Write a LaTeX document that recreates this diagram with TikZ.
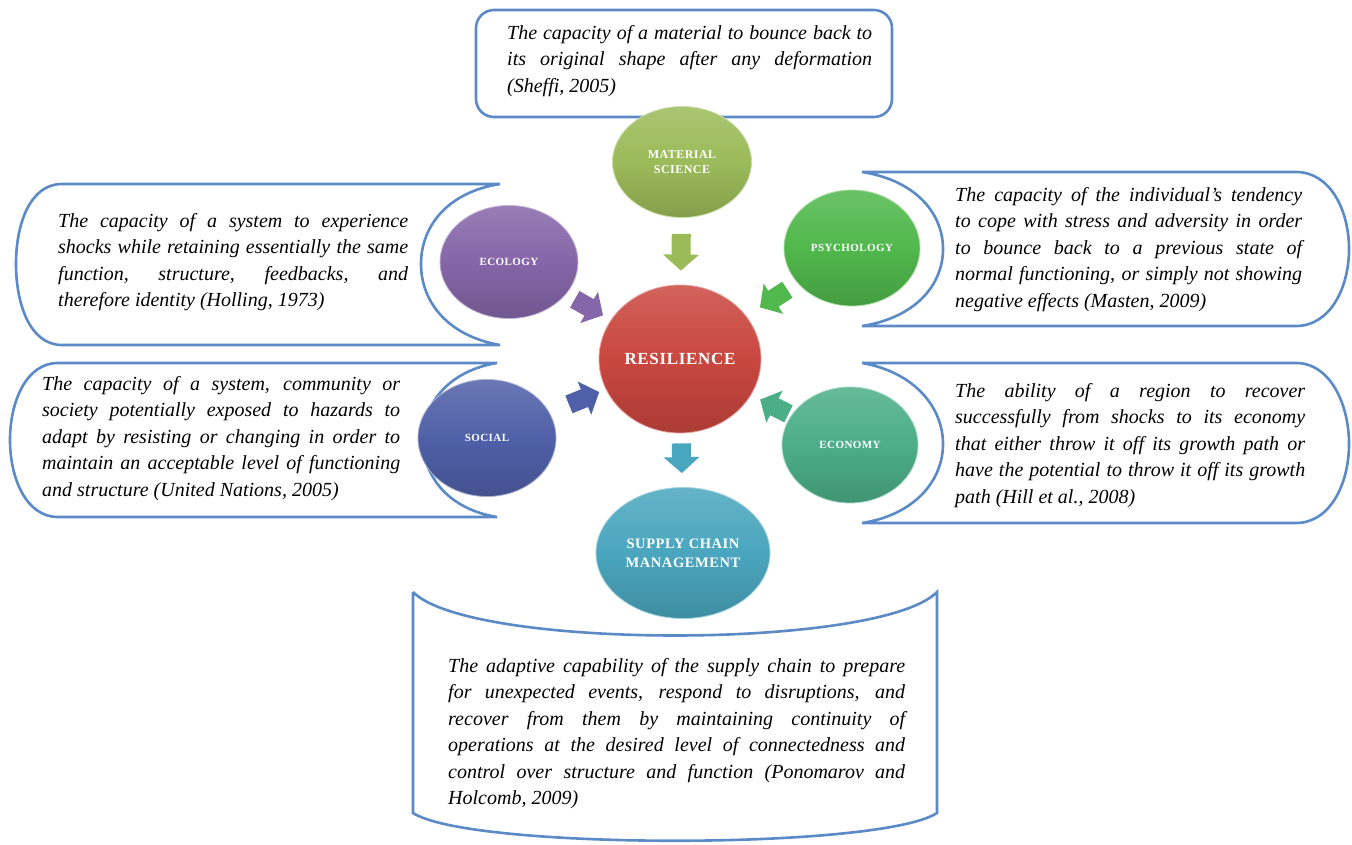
\documentclass[tikz,border=0pt]{standalone}
\usepackage{fontspec}
\setmainfont{Liberation Serif}
\newfontfamily\lblfont[LetterSpace=4.0]{Liberation Serif}
\usetikzlibrary{shapes.geometric,arrows.meta,calc}
\definecolor{boxcol}{HTML}{5B8AC6}
\definecolor{mscol}{HTML}{9BBB59}
\definecolor{rescol}{HTML}{C9473F}
\definecolor{ecocol}{HTML}{8566A8}
\definecolor{psycol}{HTML}{50B84C}
\definecolor{soccol}{HTML}{5060A8}
\definecolor{ecncol}{HTML}{4CAE88}
\definecolor{scmcol}{HTML}{4AA6BE}
\hyphenpenalty=10000
\exhyphenpenalty=10000
\tikzset{
  descbox/.style={draw=boxcol, line width=2.6pt, fill=white},
  desc/.style={anchor=north west, inner sep=0pt, align=justify,
    font=\fontsize{20}{26.5}\selectfont\itshape},
  disc/.style={ellipse, inner sep=0pt, align=center, text=white,
    top color=#1!85!white, bottom color=#1!85!black, middle color=#1,
    draw=#1!50!white, line width=0.8pt},
  flow/.style={draw=#1, line width=19pt, -{Triangle[width=35pt,length=16pt]}}
}
\begin{document}
\begin{tikzpicture}[x=1pt,y=-1pt]
\useasboundingbox (0,0) rectangle (1352,845);
\fill[white] (0,0) rectangle (1352,845);

\draw[descbox, rounded corners=18pt] (476,10) rectangle (892,117);
\draw[descbox] (500,184) -- (62,184) .. controls (30,184) and (16,224) .. (16,264)
  .. controls (16,304) and (30,345) .. (62,345) -- (500,345)
  .. controls (448,336) and (421,302) .. (421,264) .. controls (421,226) and (448,192) .. (500,184);
\draw[descbox] (862,172) -- (1296,172) .. controls (1330,172) and (1349,210) .. (1349,249)
  .. controls (1349,288) and (1330,326) .. (1296,326) -- (862,326)
  .. controls (914,318) and (943,286) .. (943,249) .. controls (943,212) and (914,180) .. (862,172);
\draw[descbox] (497,363) -- (58,363) .. controls (26,363) and (10,402) .. (10,440)
  .. controls (10,478) and (26,517) .. (58,517) -- (497,517)
  .. controls (448,509) and (423,476) .. (423,440) .. controls (423,404) and (448,371) .. (497,363);
\draw[descbox] (862,363) -- (1296,363) .. controls (1330,363) and (1349,404) .. (1349,444)
  .. controls (1349,484) and (1330,523) .. (1296,523) -- (862,523)
  .. controls (914,515) and (943,481) .. (943,444) .. controls (943,407) and (914,372) .. (862,363);
\draw[descbox] (413,592) -- (413,813) .. controls (470,850) and (880,850) .. (937,813)
  -- (937,592) .. controls (880,650) and (470,650) .. (413,592);

\node[disc=mscol, minimum width=139pt, minimum height=111pt,
  font=\lblfont\bfseries\fontsize{12}{15}\selectfont] (ms) at (682,162) {MATERIAL\\SCIENCE};
\node[disc=rescol, minimum width=162pt, minimum height=148pt,
  font=\lblfont\bfseries\fontsize{17}{20}\selectfont] (res) at (680,359) {RESILIENCE};
\node[disc=ecocol, minimum width=138pt, minimum height=113pt,
  font=\lblfont\bfseries\fontsize{11}{13}\selectfont] (eco) at (509,262) {ECOLOGY};
\node[disc=psycol, minimum width=136pt, minimum height=116pt,
  font=\lblfont\bfseries\fontsize{11}{13}\selectfont] (psy) at (852,248) {PSYCHOLOGY};
\node[disc=soccol, minimum width=138pt, minimum height=117pt,
  font=\lblfont\bfseries\fontsize{11}{13}\selectfont] (soc) at (487,438) {SOCIAL};
\node[disc=ecncol, minimum width=136pt, minimum height=116pt,
  font=\lblfont\bfseries\fontsize{11}{13}\selectfont] (ecn) at (850,445) {ECONOMY};
\node[disc=scmcol, minimum width=174pt, minimum height=131pt,
  font=\lblfont\bfseries\fontsize{14.5}{19}\selectfont] (scm) at (683,553) {SUPPLY CHAIN\\MANAGEMENT};

\draw[flow=mscol, shorten <=16pt, shorten >=14pt] (ms) -- (res);
\draw[flow=ecocol, shorten <=10pt, shorten >=9pt] (eco) -- (res);
\draw[flow=psycol, shorten <=12pt, shorten >=16pt] (psy) -- (res);
\draw[flow=soccol, shorten <=21pt, shorten >=7pt] (soc) -- (res);
\draw[flow=ecncol, shorten <=3pt, shorten >=10pt] (ecn) -- (res);
\draw[flow=scmcol, shorten <=10pt, shorten >=14pt] (res) -- (scm);

\node[desc, text width=365pt] (mstxt) at (507,25) {The capacity of a material to bounce back to\linebreak
  its original shape after any deformation\linebreak (Sheffi, 2005)};
\node[desc, text width=350pt] (ecotxt) at (58,213) {The capacity of a system to experience\linebreak
  shocks while retaining essentially the same\linebreak function, structure, feedbacks, and\linebreak
  therefore identity (Holling, 1973)};
\node[desc, text width=347pt] (psytxt) at (955,187) {The capacity of the individual's tendency\linebreak
  to cope with stress and adversity in order\linebreak to bounce back to a previous state of\linebreak
  normal functioning, or simply not showing\linebreak negative effects (Masten, 2009)};
\node[desc, text width=358pt] (soctxt) at (42,376) {The capacity of a system, community or\linebreak
  society potentially exposed to hazards to\linebreak adapt by resisting or changing in order to\linebreak
  maintain an acceptable level of functioning\linebreak and structure (United Nations, 2005)};
\node[desc, text width=350pt] (ecntxt) at (955,383) {The ability of a region to recover\linebreak
  successfully from shocks to its economy\linebreak that either throw it off its growth path or\linebreak
  have the potential to throw it off its growth\linebreak path (Hill et al., 2008)};
\node[desc, text width=457pt] (scmtxt) at (448,658) {The adaptive capability of the supply chain to prepare\linebreak
  for unexpected events, respond to disruptions, and\linebreak recover from them by maintaining continuity of\linebreak
  operations at the desired level of connectedness and\linebreak control over structure and function (Ponomarov and\linebreak
  Holcomb, 2009)};
\end{tikzpicture}
\end{document}
